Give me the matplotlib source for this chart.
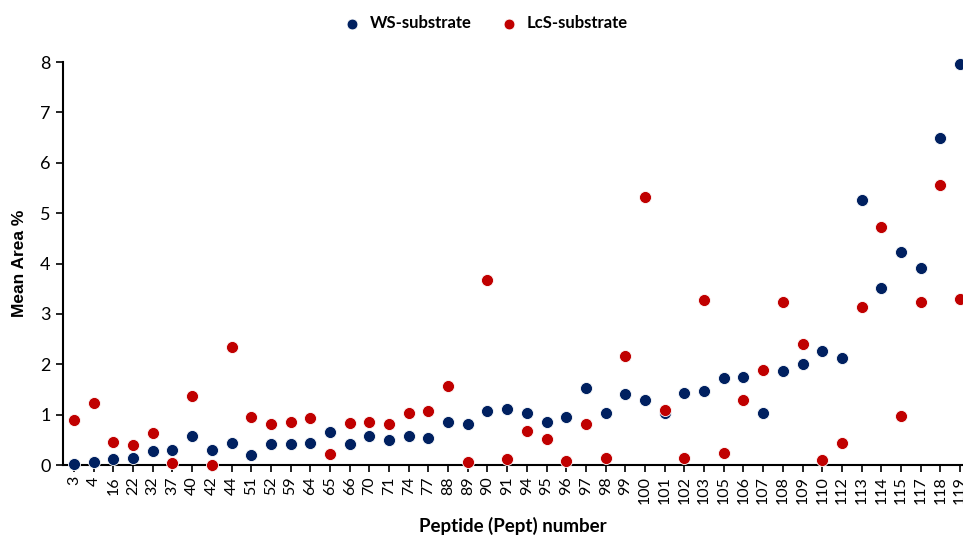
import matplotlib.pyplot as plt
import numpy as np

plt.rcParams['font.family'] = ['Lato', 'DejaVu Sans']

# Peptide numbers on the category axis
peptides = ['3', '4', '16', '22', '32', '37', '40', '42', '44', '51', '52', '59',
            '64', '65', '66', '70', '71', '74', '77', '88', '89', '90', '91', '94',
            '95', '96', '97', '98', '99', '100', '101', '102', '103', '105', '106',
            '107', '108', '109', '110', '112', '113', '114', '115', '117', '118', '119']

# Mean area % for each substrate
ws_area = [0.03, 0.07, 0.12, 0.14, 0.28, 0.30, 0.58, 0.30, 0.44, 0.20, 0.42, 0.42,
           0.44, 0.65, 0.42, 0.57, 0.49, 0.57, 0.53, 0.85, 0.81, 1.08, 1.12, 1.04,
           0.85, 0.96, 1.53, 1.03, 1.41, 1.29, 1.04, 1.43, 1.46, 1.72, 1.75,
           1.04, 1.86, 2.00, 2.27, 2.13, 5.27, 3.51, 4.22, 3.92, 6.50, 7.96]
lcs_area = [0.89, 1.23, 0.46, 0.40, 0.63, 0.05, 1.37, 0.01, 2.34, 0.96, 0.82, 0.86,
            0.93, 0.22, 0.84, 0.85, 0.81, 1.03, 1.08, 1.57, 0.07, 3.68, 0.12, 0.67,
            0.51, 0.09, 0.81, 0.14, 2.17, 5.33, 1.10, 0.14, 3.27, 0.24, 1.29,
            1.88, 3.23, 2.41, 0.11, 0.44, 3.13, 4.72, 0.98, 3.23, 5.56, 3.30]

x = np.arange(len(peptides))

fig = plt.figure(figsize=(9.63, 5.37), dpi=100)
ax = fig.add_axes([0.0654, 0.134, 0.9346, 0.7505])

ax.scatter(x, ws_area, s=75, color='#002060', edgecolors='white', linewidths=0.6,
           label='WS-substrate', zorder=3, clip_on=False)
ax.scatter(x, lcs_area, s=75, color='#C00000', edgecolors='white', linewidths=0.6,
           label='LcS-substrate', zorder=3, clip_on=False)

ax.set_xlim(-0.56, 45.15)
ax.set_ylim(0, 8)
ax.set_xticks(x)
ax.set_xticklabels(peptides, rotation=90, fontsize=11.5)
ax.set_yticks(range(0, 9))
ax.tick_params(axis='y', labelsize=13, length=5, width=1.2, pad=4)
ax.tick_params(axis='x', length=5, width=1.2, pad=3)

for side in ['top', 'right']:
    ax.spines[side].set_visible(False)
for side in ['left', 'bottom']:
    ax.spines[side].set_linewidth(1.5)
    ax.spines[side].set_color('black')

ax.set_ylabel('Mean Area %', fontsize=12.5, fontweight='bold',
              family=['Liberation Sans', 'DejaVu Sans'], labelpad=9)
ax.set_xlabel('Peptide (Pept) number', fontsize=13.5, fontweight='bold', labelpad=9)

fig.legend(loc='upper center', bbox_to_anchor=(0.5, 1.0), ncol=2, frameon=False,
           prop={'weight': 'bold', 'size': 12}, handletextpad=0.1,
           columnspacing=1.2, markerscale=0.9)

fig.savefig('out.png', dpi=100)
